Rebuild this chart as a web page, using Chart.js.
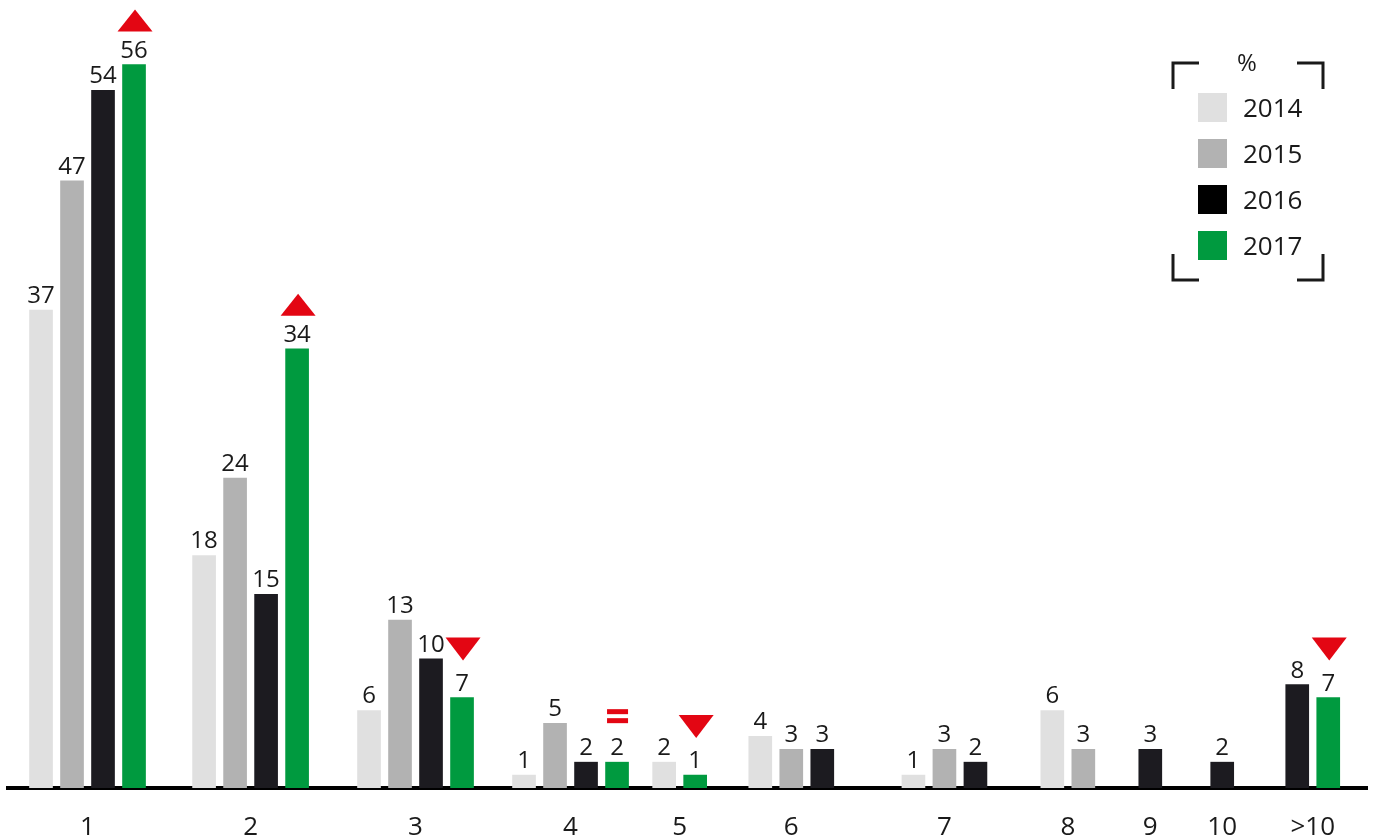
<!DOCTYPE html>
<html>
<head>
<meta charset="utf-8">
<script src="https://cdn.jsdelivr.net/npm/chart.js@4.4.0/dist/chart.umd.min.js"></script>
<style>
  html, body { margin: 0; padding: 0; background: #fff; }
  #wrap { width: 1376px; height: 838px; position: relative; }
</style>
</head>
<body>
<div id="wrap"><canvas id="chart"></canvas></div>
<script>
// categories and yearly values (%), null = no bar
const categories = ['1', '2', '3', '4', '5', '6', '7', '8', '9', '10', '>10'];
const years = ['2014', '2015', '2016', '2017'];
const values2014 = [37, 18, 6, 1, 2, 4, 1, 6, null, null, null];
const values2015 = [47, 24, 13, 5, null, 3, 3, 3, null, null, null];
const values2016 = [54, 15, 10, 2, null, 3, 2, null, 3, 2, 8];
const values2017 = [56, 34, 7, 2, 1, null, null, null, null, null, 7];
// change marker of 2017 vs 2016
const trend2017 = ['up', 'up', 'down', 'same', 'down', null, null, null, null, null, 'down'];

const seriesValues = [values2014, values2015, values2016, values2017];
const seriesColors = ['#e0e0e0', '#b2b2b2', '#1c1b20', '#009a3f'];
const legendColors = ['#e0e0e0', '#b2b2b2', '#000000', '#009a3f'];
const RED = '#e30613';
const FONT = '"Open Sans", "Noto Sans", sans-serif';

// spacing between groups, in bar slots (bars are packed, missing ones are skipped)
const groupGap = [2.26, 2.32, 2.0, 1.52, 2.1, 2.94, 2.48, 2.16, 2.32, 2.42];

// pack bars slot by slot
const points = seriesValues.map(() => []);
const groupCenters = [];
let pos = 0;
categories.forEach((cat, ci) => {
    const slots = [];
    seriesValues.forEach((vals, si) => {
        if (vals[ci] == null) return;
        points[si].push({ x: pos, y: vals[ci], cat: ci });
        slots.push(pos);
        pos += 1;
    });
    groupCenters.push((slots[0] + slots[slots.length - 1]) / 2);
    pos = slots[slots.length - 1] + (groupGap[ci] || 0);
});

const valueLabels = {
    id: 'valueLabels',
    afterDatasetsDraw(chart) {
        const ctx = chart.ctx;
        ctx.save();
        ctx.font = '24px ' + FONT;
        ctx.fillStyle = '#1a1a1a';
        ctx.textAlign = 'center';
        ctx.textBaseline = 'alphabetic';
        chart.data.datasets.forEach((ds, di) => {
            const meta = chart.getDatasetMeta(di);
            meta.data.forEach((bar, i) => {
                ctx.fillText(String(ds.data[i].y), bar.x, bar.y - 7);
            });
        });
        ctx.restore();
    }
};

const trendMarkers = {
    id: 'trendMarkers',
    afterDatasetsDraw(chart) {
        const ctx = chart.ctx;
        const di = 3;
        const ds = chart.data.datasets[di];
        const meta = chart.getDatasetMeta(di);
        ctx.save();
        ctx.fillStyle = RED;
        meta.data.forEach((bar, i) => {
            const t = trend2017[ds.data[i].cat];
            if (!t) return;
            const cx = bar.x + 1;
            const labelTop = bar.y - 7 - 17;
            if (t === 'up') {
                const b = labelTop - 9;
                ctx.beginPath();
                ctx.moveTo(cx - 17.5, b);
                ctx.lineTo(cx + 17.5, b);
                ctx.lineTo(cx, b - 22);
                ctx.closePath();
                ctx.fill();
            } else if (t === 'down') {
                const b = labelTop - 13;
                ctx.beginPath();
                ctx.moveTo(cx - 17.5, b - 23);
                ctx.lineTo(cx + 17.5, b - 23);
                ctx.lineTo(cx, b);
                ctx.closePath();
                ctx.fill();
            } else if (t === 'same') {
                const b = labelTop - 14;
                ctx.fillRect(cx - 11, b - 15, 21, 5);
                ctx.fillRect(cx - 11, b - 6, 21, 5);
            }
        });
        ctx.restore();
    }
};

const bracketLegend = {
    id: 'bracketLegend',
    afterDraw(chart) {
        const ctx = chart.ctx;
        const L = 1173, R = 1323, T = 63, B = 280, arm = 26;
        ctx.save();
        ctx.strokeStyle = '#1a1a1a';
        ctx.lineWidth = 3;
        ctx.lineCap = 'butt';
        ctx.beginPath();
        ctx.moveTo(L, T + arm); ctx.lineTo(L, T); ctx.lineTo(L + arm, T);
        ctx.moveTo(R - arm, T); ctx.lineTo(R, T); ctx.lineTo(R, T + arm);
        ctx.moveTo(L, B - arm); ctx.lineTo(L, B); ctx.lineTo(L + arm, B);
        ctx.moveTo(R - arm, B); ctx.lineTo(R, B); ctx.lineTo(R, B - arm);
        ctx.stroke();

        ctx.fillStyle = '#1a1a1a';
        ctx.font = '24px ' + FONT;
        ctx.textAlign = 'center';
        ctx.textBaseline = 'middle';
        ctx.fillText('%', 1247, 64);

        ctx.font = '26px ' + FONT;
        ctx.textAlign = 'left';
        chart.data.datasets.forEach((ds, i) => {
            const y = 93 + i * 46;
            ctx.fillStyle = legendColors[i];
            ctx.fillRect(1198, y, 29, 29);
            ctx.fillStyle = '#1a1a1a';
            ctx.fillText(ds.label, 1243, y + 17);
        });
        ctx.restore();
    }
};

new Chart(document.getElementById('chart'), {
    type: 'bar',
    data: {
        datasets: years.map((year, si) => ({
            label: year,
            data: points[si],
            backgroundColor: seriesColors[si],
            borderWidth: 0,
            barThickness: 23,
            grouped: false
        }))
    },
    options: {
        responsive: true,
        maintainAspectRatio: false,
        animation: false,
        layout: { padding: { left: 8, right: 9, top: 0, bottom: 0 } },
        plugins: {
            legend: { display: false },
            tooltip: { enabled: false }
        },
        scales: {
            x: {
                type: 'linear',
                offset: false,
                min: -1.065,
                max: 42.77,
                grid: { display: false },
                border: { display: true, color: '#000', width: 4 },
                afterBuildTicks: scale => {
                    scale.ticks = groupCenters.map(v => ({ value: v }));
                },
                afterFit: scale => { scale.height = 50; },
                ticks: {
                    autoSkip: false,
                    maxRotation: 0,
                    padding: 16,
                    color: '#1a1a1a',
                    font: { family: FONT, size: 26 },
                    callback: (value, index) => categories[index]
                }
            },
            y: {
                display: false,
                min: 0,
                max: 61
            }
        }
    },
    plugins: [valueLabels, trendMarkers, bracketLegend]
});
</script>
</body>
</html>
